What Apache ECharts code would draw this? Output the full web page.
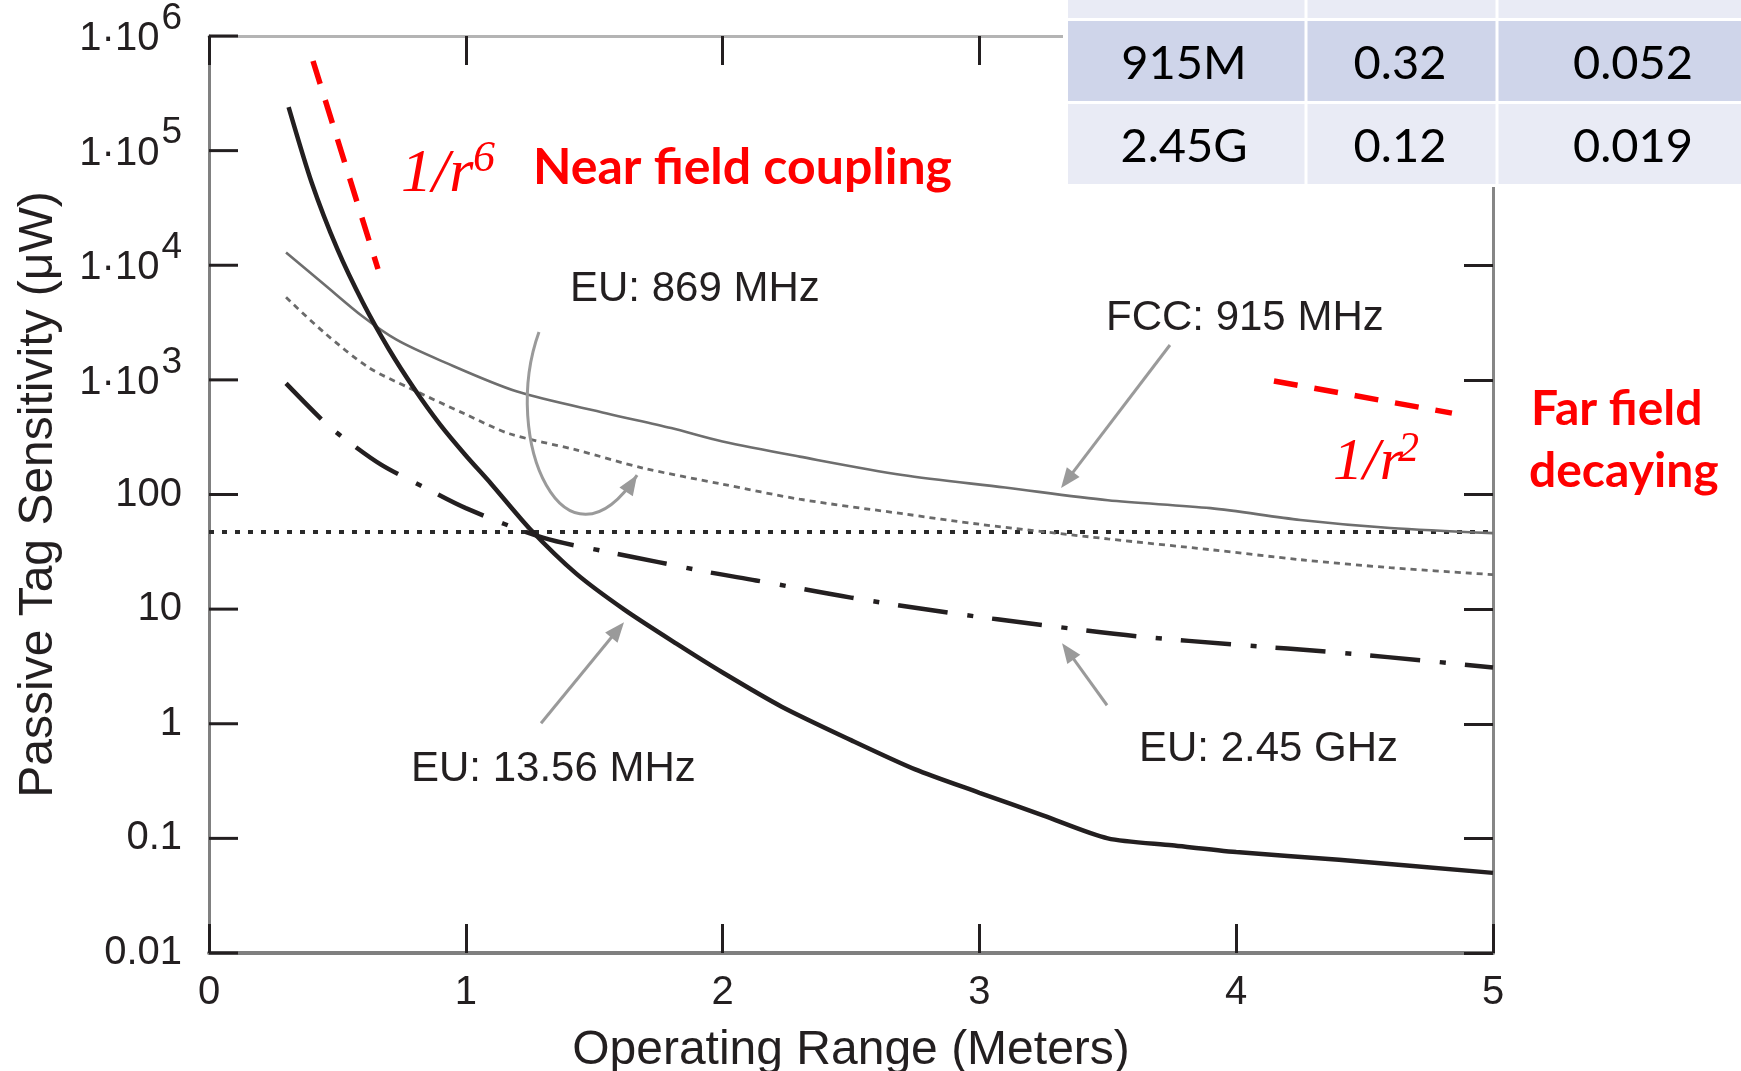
<!DOCTYPE html>
<html>
<head>
<meta charset="utf-8">
<title>Passive tag sensitivity vs operating range</title>
<script src="https://cdn.jsdelivr.net/npm/echarts@6/dist/echarts.min.js"></script>
<style>
  html, body { margin: 0; padding: 0; background: #fff; }
  #chart { width: 1741px; height: 1071px; }
</style>
</head>
<body>
<div id="chart"></div>
<script>
// ---- Operating range (m) and required passive tag sensitivity (µW) per band ----
const rangeHF  = [0.31, 0.4, 0.5, 0.6, 0.7, 0.8, 0.9, 1.0, 1.1, 1.25, 1.43, 1.62, 1.82, 2.0, 2.23, 2.5, 2.75, 3.0, 3.25, 3.5, 3.75, 4.0, 4.4, 5.0];
const sensHF   = [240000, 52500, 13800, 4680, 1860, 832, 407, 219, 123, 50, 20.4, 9.8, 5.0, 2.8, 1.41, 0.72, 0.40, 0.25, 0.158, 0.10, 0.087, 0.076, 0.065, 0.050];

const rangeFCC = [0.3, 0.45, 0.6, 0.73, 0.9, 1.2, 1.55, 1.8, 2.0, 2.3, 2.7, 3.1, 3.5, 3.9, 4.25, 4.6, 5.0];
const sensFCC  = [12900, 6760, 3550, 2240, 1480, 790, 510, 380, 290, 214, 148, 115, 89, 76, 60, 51, 46];

const range869 = [0.3, 0.45, 0.62, 0.78, 1.0, 1.17, 1.43, 1.69, 2.0, 2.3, 2.7, 3.0, 3.5, 3.9, 4.25, 4.6, 5.0];
const sens869  = [5250, 2570, 1290, 850, 500, 339, 245, 170, 123, 91, 68, 55, 41, 33, 27, 23, 20];

const range245 = [0.3, 0.45, 0.52, 0.67, 0.84, 1.0, 1.3, 1.55, 1.75, 1.95, 2.13, 2.5, 2.88, 3.26, 3.63, 4.0, 4.4, 4.78, 5.0];
const sens245  = [933, 427, 316, 182, 115, 76, 42, 31.6, 25.7, 20.9, 17.8, 12.6, 9.3, 7.2, 5.75, 4.9, 4.17, 3.47, 3.09];

// reference sensitivity level (dotted)
const thresholdRange = [0, 5];
const thresholdSens  = [47, 47];

// slope guides: 1/r^6 near field, 1/r^2 far field
const nearGuideRange = [0.405, 0.658];
const nearGuideSens  = [605000, 9270];
const farGuideRange  = [4.147, 4.840];
const farGuideSens   = [977, 513];

// callout arrows (range, sensitivity): tail -> tip
const arrowFCC = [[3.742, 2014], [3.318, 114]];
const arrowHF  = [[1.293, 1.01], [1.616, 7.7]];
const arrow245 = [[3.497, 1.45], [3.322, 5.05]];
// curved callout for 869 MHz: start, control 1, control 2, tip
const hook869  = [[1.285, 2612], [1.133, 299], [1.386, 16.2], [1.667, 147.6]];

// axis ticks
const xMin = 0, xMax = 5, xStep = 1;
const yMin = 0.01, yMax = 1e6;
const yDecades = [0.01, 0.1, 1, 10, 100, 1e3, 1e4, 1e5, 1e6];

// inset table
const tableBand = ['915M', '2.45G'];
const tableColB = ['0.32', '0.12'];
const tableColC = ['0.052', '0.019'];

const zip = (xs, ys) => xs.map((x, i) => [x, ys[i]]);

const INK = '#231f20';
const SANS = '"Liberation Sans", Arial, sans-serif';
const TICK_LEN = 29;

function yLabel(v) {
  if (v >= 1000) {
    const e = Math.round(Math.log10(v));
    return '{m|1·10}{e|' + e + '}';
  }
  return String(+v.toPrecision(3));
}

const ticks = () => ({ show: true, inside: true, length: TICK_LEN, lineStyle: { color: INK, width: 3 } });

const option = {
  animation: false,
  backgroundColor: '#ffffff',
  grid: { left: 209, right: 248, top: 36, bottom: 118, containLabel: false, outerBoundsMode: 'none' },
  xAxis: [
    {
      type: 'value', min: xMin, max: xMax, interval: xStep, position: 'bottom',
      axisLine: { show: true, onZero: false, lineStyle: { color: '#7f7f7f', width: 4 } },
      axisTick: ticks(),
      splitLine: { show: false },
      axisLabel: { margin: 20, fontSize: 40, fontFamily: SANS, color: INK },
      name: 'Operating Range (Meters)', nameLocation: 'middle', nameGap: 74,
      nameTextStyle: { fontSize: 48, fontFamily: SANS, color: INK }
    },
    {
      type: 'value', min: xMin, max: xMax, interval: xStep, position: 'top',
      axisLine: { show: true, onZero: false, lineStyle: { color: '#b4b4b4', width: 3 } },
      axisTick: ticks(),
      splitLine: { show: false },
      axisLabel: { show: false }
    }
  ],
  yAxis: [
    {
      // left edge: axis line, tick labels and title (inward ticks added below)
      type: 'log', logBase: 10, min: yMin, max: yMax, splitNumber: 8, position: 'left',
      axisLine: { show: true, lineStyle: { color: '#808080', width: 3 } },
      axisTick: { show: false },
      minorTick: { show: false },
      splitLine: { show: false },
      axisLabel: {
        margin: 27, color: INK, fontFamily: SANS, fontSize: 40,
        formatter: yLabel,
        rich: {
          m: { fontSize: 40, fontFamily: SANS, color: INK, lineHeight: 40, padding: [19, 0, 13, 0] },
          e: { fontSize: 37, fontFamily: SANS, color: INK, lineHeight: 37, padding: [0, 0, 35, 2] }
        }
      },
      name: 'Passive Tag Sensitivity (\u03bcW)', nameLocation: 'middle', nameGap: 146, nameRotate: 90,
      nameTextStyle: { fontSize: 48, fontFamily: SANS, color: INK }
    },
    {
      // right edge frame with inward ticks
      type: 'log', logBase: 10, min: yMin, max: yMax, splitNumber: 8, position: 'right',
      axisLine: { show: true, onZero: false, lineStyle: { color: '#868686', width: 3 } },
      axisTick: ticks(),
      minorTick: { show: false },
      splitLine: { show: false },
      axisLabel: { show: false }
    }
  ],
  series: [
    {
      name: 'EU: 13.56 MHz', type: 'line', data: zip(rangeHF, sensHF),
      symbol: 'none', smooth: 0.25, silent: true, z: 5,
      lineStyle: { color: INK, width: 4.5 }
    },
    {
      name: 'FCC: 915 MHz', type: 'line', data: zip(rangeFCC, sensFCC),
      symbol: 'none', smooth: 0.3, silent: true, z: 4,
      lineStyle: { color: '#6e6e6e', width: 2.6 }
    },
    {
      name: 'EU: 869 MHz', type: 'line', data: zip(range869, sens869),
      symbol: 'none', smooth: 0.3, silent: true, z: 4,
      lineStyle: { color: '#6a6a6a', width: 2.8, type: [6, 5] }
    },
    {
      name: 'EU: 2.45 GHz', type: 'line', data: zip(range245, sens245),
      symbol: 'none', smooth: 0.3, silent: true, z: 5,
      lineStyle: { color: INK, width: 4.5, type: [50, 20, 6, 19] }
    },
    {
      name: 'reference level', type: 'line', data: zip(thresholdRange, thresholdSens),
      symbol: 'none', silent: true, z: 3,
      lineStyle: { color: '#2a2a2a', width: 4, type: [5, 8] }
    },
    {
      name: 'near field 1/r^6', type: 'line', data: zip(nearGuideRange, nearGuideSens),
      symbol: 'none', silent: true, z: 6,
      lineStyle: { color: '#ff0000', width: 5.5, type: [24, 17] }
    },
    {
      name: 'far field 1/r^2', type: 'line', data: zip(farGuideRange, farGuideSens),
      symbol: 'none', silent: true, z: 6,
      lineStyle: { color: '#ff0000', width: 5.5, type: [24, 17] }
    }
  ]
};

const chart = echarts.init(document.getElementById('chart'), null, { renderer: 'canvas' });
chart.setOption(option);

// ---- annotations ----
const toPx = p => chart.convertToPixel({ seriesIndex: 0 }, p);
const g = [];

// inward decade ticks along the left edge
yDecades.forEach(v => {
  const p = toPx([xMin, v]);
  g.push({ type: 'line', z: 30, silent: true,
    shape: { x1: p[0], y1: p[1], x2: p[0] + TICK_LEN, y2: p[1] },
    style: { stroke: INK, lineWidth: 3 } });
});

function text(str, x, baseline, size, font, fill, align, z) {
  return {
    type: 'text', x: x, y: baseline - 0.33 * size, z: z || 60, silent: true,
    style: {
      text: str, font: font, fill: fill,
      textAlign: align || 'left', align: align || 'left',
      textVerticalAlign: 'middle', verticalAlign: 'middle'
    }
  };
}

function arrow(tail, tip, color, width, headLen, headHalf) {
  const dx = tip[0] - tail[0], dy = tip[1] - tail[1];
  const d = Math.hypot(dx, dy), ux = dx / d, uy = dy / d;
  const bx = tip[0] - ux * headLen, by = tip[1] - uy * headLen;
  return [
    { type: 'line', z: 40, silent: true,
      shape: { x1: tail[0], y1: tail[1], x2: bx + ux * 2, y2: by + uy * 2 },
      style: { stroke: color, lineWidth: width } },
    { type: 'polygon', z: 40, silent: true,
      shape: { points: [[tip[0], tip[1]], [bx - uy * headHalf, by + ux * headHalf], [bx + uy * headHalf, by - ux * headHalf]] },
      style: { fill: color } }
  ];
}

const ARROW = '#9a9a9a';
[arrowFCC, arrowHF, arrow245].forEach(a => {
  g.push(...arrow(toPx(a[0]), toPx(a[1]), ARROW, 3, 20, 8));
});

// curved 869 MHz callout
const h = hook869.map(toPx);
g.push({
  type: 'bezierCurve', z: 40, silent: true,
  shape: { x1: h[0][0], y1: h[0][1], cpx1: h[1][0], cpy1: h[1][1], cpx2: h[2][0], cpy2: h[2][1], x2: h[3][0], y2: h[3][1] },
  style: { stroke: ARROW, lineWidth: 3, fill: null }
});
{
  // arrowhead along the end tangent of the curve
  const tail = [h[3][0] - (h[3][0] - h[2][0]) * 0.2, h[3][1] - (h[3][1] - h[2][1]) * 0.2];
  const head = arrow(tail, h[3], ARROW, 3, 20, 8);
  g.push(head[1]);
}

// band labels
const LABEL = '42px ' + SANS;
g.push(text('EU: 869 MHz', 570, 303, 42, LABEL, INK));
g.push(text('FCC: 915 MHz', 1106, 332, 42, LABEL, INK));
g.push(text('EU: 13.56 MHz', 411, 783, 42, LABEL, INK));
g.push(text('EU: 2.45 GHz', 1139, 763, 42, LABEL, INK));

// red slope annotations
const SERIF_IT = sz => 'italic ' + sz + 'px "Liberation Serif", "Times New Roman", serif';
const RED_BOLD = sz => 'bold ' + sz + 'px Lato, "Open Sans", sans-serif';
g.push(text('1/r', 401, 195, 62, SERIF_IT(62), '#ff0000'));
g.push(text('6', 473, 174, 44, SERIF_IT(44), '#ff0000'));
g.push(text('Near field coupling', 533, 184, 50, RED_BOLD(50), '#ff0000'));
g.push(text('1/r', 1333, 483, 60, SERIF_IT(60), '#ff0000'));
g.push(text('2', 1398, 464, 42, SERIF_IT(42), '#ff0000'));
g.push(text('Far field', 1531, 425, 48, RED_BOLD(48), '#ff0000'));
g.push(text('decaying', 1529, 487, 48, RED_BOLD(48), '#ff0000'));

// inset table
g.push({ type: 'rect', z: 90, silent: true, shape: { x: 1063, y: 0, width: 678, height: 187 }, style: { fill: '#ffffff' } });
const colEdges = [1068, 1306, 1497, 1760];
const rowEdges = [[-20, 18], [21, 101], [104, 184]];
const rowFill = ['#E9EBF5', '#CFD5EA', '#E9EBF5'];
rowEdges.forEach((r, ri) => {
  for (let c = 0; c < 3; c++) {
    const x0 = colEdges[c] + (c ? 1.5 : 0);
    const x1 = colEdges[c + 1] - 1.5;
    g.push({ type: 'rect', z: 91, silent: true,
      shape: { x: x0, y: r[0], width: x1 - x0, height: r[1] - r[0] },
      style: { fill: rowFill[ri] } });
  }
});
const colCenters = [1184, 1400, 1633];
const rowBaselines = [79, 162];
const TABLE_FONT = '47px Lato, "Noto Sans", sans-serif';
[tableBand, tableColB, tableColC].forEach((col, ci) => {
  col.forEach((s, ri) => {
    g.push(text(s, colCenters[ci], rowBaselines[ri], 47, TABLE_FONT, '#000000', 'center', 95));
  });
});

chart.setOption({ graphic: { elements: g } });
</script>
</body>
</html>
